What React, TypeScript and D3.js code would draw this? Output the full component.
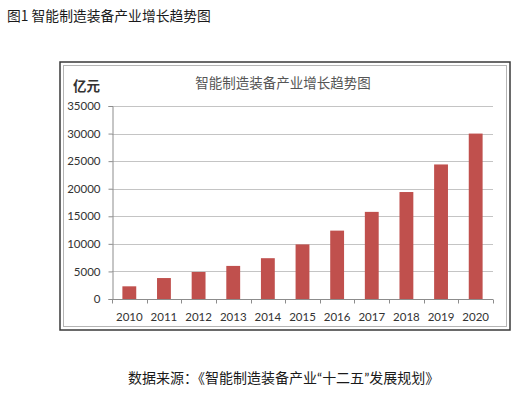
import React, { useEffect, useRef } from 'react';
import * as d3 from 'd3';

const years = ['2010', '2011', '2012', '2013', '2014', '2015', '2016', '2017', '2018', '2019', '2020'];
const output = [2300, 3800, 4900, 6000, 7400, 9900, 12400, 15800, 19400, 24400, 30000];
const yTicks = [0, 5000, 10000, 15000, 20000, 25000, 30000, 35000];

const FIG_CAPTION = '图1 智能制造装备产业增长趋势图';
const CHART_TITLE = '智能制造装备产业增长趋势图';
const UNIT = '亿元';
// source note split so the quote marks can use a narrow latin font
const SOURCE_PARTS = ['数据来源：《智能制造装备产业', '“', '十二五', '”', '发展规划》'];

const CJK = '"Noto Sans CJK SC", "Noto Sans", sans-serif';
const NUM = 'Lato, "Open Sans", sans-serif';

const App = () => {
  const ref = useRef<SVGSVGElement>(null);

  useEffect(() => {
    const svg = d3.select(ref.current);
    svg.selectAll('*').remove();

    const left = 112;
    const right = 493;
    const top = 106;
    const bottom = 299;

    const x = d3.scaleBand().domain(years).range([left, right]).paddingInner(0.6).paddingOuter(0.3);
    const y = d3.scaleLinear().domain([0, 35000]).range([bottom, top]);

    // caption above the chart
    svg
      .append('text')
      .attr('x', 7)
      .attr('y', 21)
      .attr('font-family', CJK)
      .attr('font-size', 13.8)
      .attr('fill', '#1a1a1a')
      .text(FIG_CAPTION);

    // double frame
    svg
      .append('rect')
      .attr('x', 60)
      .attr('y', 62)
      .attr('width', 450)
      .attr('height', 268)
      .attr('fill', '#fff')
      .attr('stroke', '#3a3a3a')
      .attr('stroke-width', 1.5);
    svg
      .append('rect')
      .attr('x', 63.5)
      .attr('y', 65.5)
      .attr('width', 443)
      .attr('height', 261)
      .attr('fill', 'none')
      .attr('stroke', '#b5b5b5')
      .attr('stroke-width', 1);

    svg
      .append('text')
      .attr('x', 283)
      .attr('y', 88)
      .attr('text-anchor', 'middle')
      .attr('font-family', CJK)
      .attr('font-size', 13.5)
      .attr('fill', '#555')
      .text(CHART_TITLE);

    svg
      .append('text')
      .attr('x', 73)
      .attr('y', 91)
      .attr('font-family', CJK)
      .attr('font-size', 13.5)
      .attr('font-weight', 'bold')
      .attr('fill', '#333')
      .text(UNIT);

    // gridlines
    svg
      .append('g')
      .selectAll('line')
      .data(yTicks.filter((d) => d > 0))
      .enter()
      .append('line')
      .attr('x1', left)
      .attr('x2', right)
      .attr('y1', (d) => Math.round(y(d)) + 0.5)
      .attr('y2', (d) => Math.round(y(d)) + 0.5)
      .attr('stroke', '#c4c4c4')
      .attr('stroke-width', 1);

    // bars
    svg
      .append('g')
      .selectAll('rect')
      .data(output)
      .enter()
      .append('rect')
      .attr('x', (d, i) => x(years[i]) as number)
      .attr('width', x.bandwidth())
      .attr('y', (d) => y(d))
      .attr('height', (d) => bottom - y(d))
      .attr('fill', '#c0504d');

    // y axis
    const yAxis = svg
      .append('g')
      .attr('transform', `translate(${left + 0.5},0)`)
      .call(d3.axisLeft(y).tickValues(yTicks).tickSize(4).tickPadding(8).tickFormat((d) => String(d)));
    yAxis.select('.domain').attr('stroke', '#8c8c8c');
    yAxis.selectAll('.tick line').attr('stroke', '#8c8c8c');
    yAxis
      .selectAll('.tick text')
      .attr('font-family', NUM)
      .attr('font-size', 11.5)
      .attr('fill', '#333');

    // x axis with ticks between categories
    const xg = svg.append('g').attr('transform', `translate(0,${bottom + 0.5})`);
    xg.append('line').attr('x1', left).attr('x2', right).attr('stroke', '#8c8c8c');
    const bounds = d3.range(years.length + 1).map((i) => left + i * x.step());
    xg.selectAll('line.tk')
      .data(bounds)
      .enter()
      .append('line')
      .attr('class', 'tk')
      .attr('x1', (d) => Math.round(d) + 0.5)
      .attr('x2', (d) => Math.round(d) + 0.5)
      .attr('y1', 0)
      .attr('y2', 4)
      .attr('stroke', '#8c8c8c');
    xg.selectAll('text')
      .data(years)
      .enter()
      .append('text')
      .attr('x', (d) => (x(d) as number) + x.bandwidth() / 2)
      .attr('y', 21)
      .attr('text-anchor', 'middle')
      .attr('font-family', NUM)
      .attr('font-size', 11.5)
      .attr('fill', '#333')
      .text((d) => d);

    // source note
    const src = svg
      .append('text')
      .attr('x', 128)
      .attr('y', 383)
      .attr('font-family', CJK)
      .attr('font-size', 14)
      .attr('fill', '#1a1a1a');
    src
      .selectAll('tspan')
      .data(SOURCE_PARTS)
      .enter()
      .append('tspan')
      .attr('font-family', (d) => (d === '“' || d === '”' ? NUM : CJK))
      .text((d) => d);
  }, []);

  return (
    <svg
      ref={ref}
      width={518}
      height={393}
      style={{ position: 'absolute', left: 0, top: 0, background: '#fff' }}
    />
  );
};

export default App;
